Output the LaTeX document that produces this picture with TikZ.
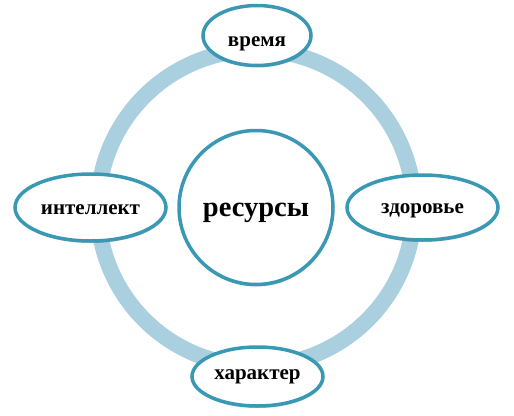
\documentclass[tikz,border=0pt]{standalone}
\usepackage{fontspec}
\setmainfont{Liberation Serif}
\usetikzlibrary{shapes.geometric,shadows}
\definecolor{ringblue}{RGB}{170,207,223}
\definecolor{edgeteal}{RGB}{58,152,180}
\tikzset{
  ringline/.style={draw=ringblue, line width=16pt},
  bubble/.style={ellipse, draw=edgeteal, line width=3.5pt, fill=white, inner sep=0pt,
    drop shadow={shadow xshift=0.5pt, shadow yshift=-2pt, opacity=0.22, fill=black}},
  hub/.style={bubble, circle, minimum size=154pt},
  lbl/.style={anchor=base, inner sep=0pt, font=\fontsize{21}{24}\selectfont\bfseries},
  hublbl/.style={lbl, font=\fontsize{28.5}{32}\selectfont\bfseries}
}
\begin{document}
\begin{tikzpicture}[x=1pt,y=-1pt]
\useasboundingbox (0,0) rectangle (514,415);
\coordinate (ringc) at (256,208);
\draw[ringline] (ringc) circle [radius=158];
\node[hub] (res) at (256,207.5) {};
\node[bubble, minimum width=108pt, minimum height=60pt] (top) at (257,35.5) {};
\node[bubble, minimum width=151pt, minimum height=67pt] (left) at (90.5,207.5) {};
\node[bubble, minimum width=151pt, minimum height=65pt] (right) at (422.5,207.5) {};
\node[bubble, minimum width=131pt, minimum height=59pt] (bot) at (257.5,376.5) {};
\node[hublbl] (tres) at ([yshift=-8.5pt]res.center) {ресурсы};
\node[lbl] (ttop) at ([yshift=-11pt]top.center) {время};
\node[lbl] (tleft) at ([yshift=-6.5pt]left.center) {интеллект};
\node[lbl] (tright) at ([yshift=-6pt]right.center) {здоровье};
\node[lbl] (tbot) at ([yshift=-3pt]bot.center) {характер};
\end{tikzpicture}
\end{document}
